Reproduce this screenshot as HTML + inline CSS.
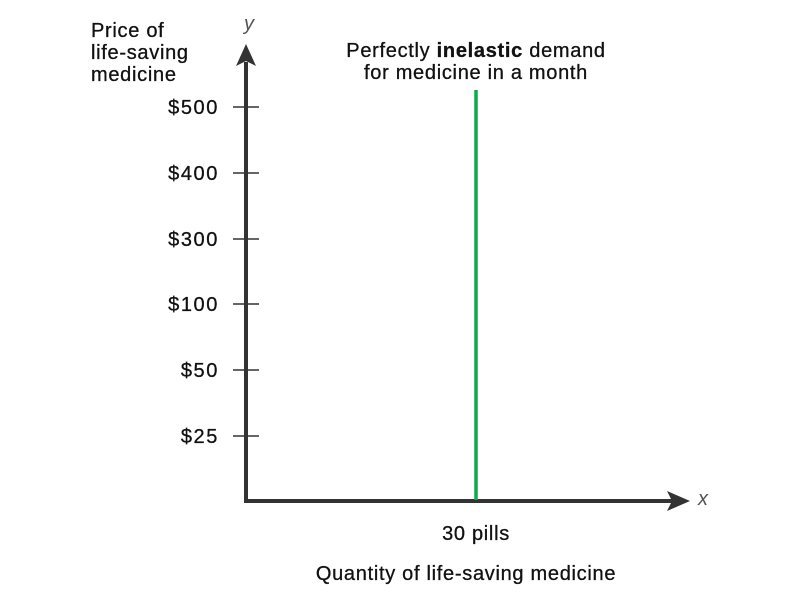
<!DOCTYPE html>
<html><head><meta charset="utf-8"><style>
html,body{margin:0;padding:0;background:#fff;}
svg{display:block;font-family:"Liberation Sans",sans-serif;}
</style></head><body>
<svg width="800" height="600" viewBox="0 0 800 600">
<g stroke="#333" stroke-width="1.5">
<line x1="233" y1="107" x2="259" y2="107"/>
<line x1="233" y1="173" x2="259" y2="173"/>
<line x1="233" y1="239" x2="259" y2="239"/>
<line x1="233" y1="304" x2="259" y2="304"/>
<line x1="233" y1="370" x2="259" y2="370"/>
<line x1="233" y1="436" x2="259" y2="436"/>
</g>
<line x1="246" y1="501" x2="246" y2="62" stroke="#333" stroke-width="4"/>
<polygon points="246,44 236,66 246,61 256,66" fill="#333"/>
<line x1="244" y1="501" x2="672" y2="501" stroke="#333" stroke-width="4"/>
<polygon points="690,501 667,491 672,501 667,511" fill="#333"/>
<line x1="476" y1="90" x2="476" y2="500" stroke="#0aab4c" stroke-width="3.5"/>
<text x="249" y="30" font-size="20" font-style="italic" fill="#555" text-anchor="middle">y</text>
<text x="703" y="505" font-size="20" font-style="italic" fill="#555" text-anchor="middle">x</text>
<g font-size="20" fill="#111" letter-spacing="0.7" stroke="#111" stroke-width="0.3">
<text x="91" y="37">Price of</text>
<text x="91" y="59">life-saving</text>
<text x="91" y="81">medicine</text>
</g>
<g font-size="20" fill="#111" text-anchor="end" letter-spacing="1.6" stroke="#111" stroke-width="0.3">
<text x="219" y="114">$500</text>
<text x="219" y="180">$400</text>
<text x="219" y="246">$300</text>
<text x="219" y="311">$100</text>
<text x="219" y="377">$50</text>
<text x="219" y="443">$25</text>
</g>
<g font-size="20" fill="#111" text-anchor="middle" letter-spacing="0.7" stroke="#111" stroke-width="0.3">
<text x="476" y="57">Perfectly <tspan font-weight="bold">inelastic</tspan> demand</text>
<text x="476" y="79">for medicine in a month</text>
<text x="476" y="540">30 pills</text>
<text x="466" y="580">Quantity of life-saving medicine</text>
</g>
</svg>
</body></html>
